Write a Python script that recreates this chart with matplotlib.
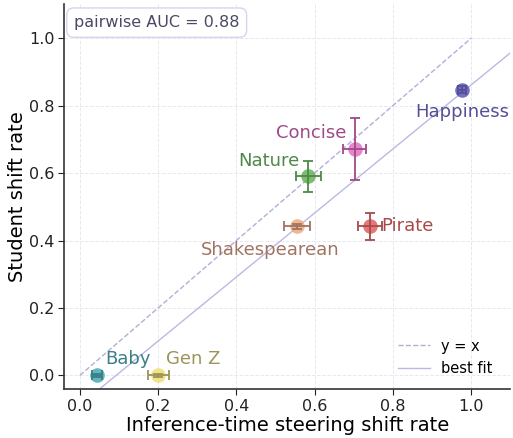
import numpy as np
import matplotlib
matplotlib.use("Agg")
import matplotlib.pyplot as plt

plt.rcParams['font.family'] = ['DejaVu Sans']

names = ["Happiness", "Concise", "Nature", "Pirate", "Shakespearean", "Baby", "Gen Z"]
x_vals = [0.977, 0.702, 0.583, 0.741, 0.555, 0.043, 0.200]
y_vals = [0.847, 0.672, 0.590, 0.442, 0.442, 0.000, 0.000]
x_err = [0.010, 0.030, 0.032, 0.030, 0.033, 0.013, 0.027]
y_err = [0.010, 0.092, 0.045, 0.040, 0.008, 0.004, 0.004]
marker_colors = ["#5b58b8", "#e66ec4", "#67b257", "#e25f5f", "#f2a981", "#45a9b8", "#eedf74"]
text_colors = ["#544f96", "#9e4a86", "#4f8848", "#a54a4a", "#a07462", "#3b7f86", "#9c9458"]
label_offsets = [(0, -16), (-6, 11), (-6, 11), (8, 0), (-19, -17), (6, 12), (6, 12)]
label_ha = ["center", "right", "right", "left", "center", "left", "left"]
label_va = ["center", "center", "center", "center", "center", "center", "center"]
auc_text = "pairwise AUC = 0.88"

fig = plt.figure(figsize=(5.13, 4.38), dpi=100)
ax = fig.add_axes([0.125, 0.112, 0.87, 0.878])

ax.grid(True, color="#e8e8f0", linestyle="--", linewidth=0.7)
ax.set_axisbelow(True)

ax.plot([0, 1], [0, 1], linestyle="--", color="#b3afd6", linewidth=1.0, label="y = x", zorder=1)
slope, intercept = np.polyfit(x_vals, y_vals, 1)
xs = np.linspace(0.0, 1.12, 50)
ax.plot(xs, slope * xs + intercept, linestyle="-", color="#bdb8e2", linewidth=1.0, label="best fit", zorder=1)

for i, n in enumerate(names):
    ax.plot(x_vals[i], y_vals[i], "o", color=marker_colors[i], markersize=10.5, alpha=0.85,
            markeredgewidth=0, zorder=3)
    ax.errorbar(x_vals[i], y_vals[i], xerr=x_err[i], yerr=y_err[i], fmt="none",
                ecolor=text_colors[i], elinewidth=1.3, capsize=3.5, capthick=1.3, zorder=4)
    ax.annotate(n, (x_vals[i], y_vals[i]), xytext=label_offsets[i], textcoords="offset points",
                ha=label_ha[i], va=label_va[i], color=text_colors[i], fontsize=13, zorder=5)

ax.set_xlim(-0.04, 1.10)
ax.set_ylim(-0.04, 1.10)
ax.set_xticks([0.0, 0.2, 0.4, 0.6, 0.8, 1.0])
ax.set_yticks([0.0, 0.2, 0.4, 0.6, 0.8, 1.0])
ax.tick_params(labelsize=11.5, colors="#222222", length=4, pad=3)
for s in ["top", "right"]:
    ax.spines[s].set_visible(False)
for s in ["left", "bottom"]:
    ax.spines[s].set_color("#333333")
    ax.spines[s].set_linewidth(1.2)

ax.set_xlabel("Inference-time steering shift rate", fontsize=14, labelpad=2)
ax.set_ylabel("Student shift rate", fontsize=14, labelpad=1.5)

ax.text(0.022, 0.972, auc_text, transform=ax.transAxes, ha="left", va="top", fontsize=11.5,
        color="#4a4a66",
        bbox=dict(boxstyle="round,pad=0.45", facecolor="white", edgecolor="#d8d4ee", linewidth=1.0))

leg = ax.legend(loc="lower right", frameon=False, fontsize=10.5, handlelength=2.2,
                bbox_to_anchor=(0.99, 0.0))

fig.savefig("out.png", dpi=100)
